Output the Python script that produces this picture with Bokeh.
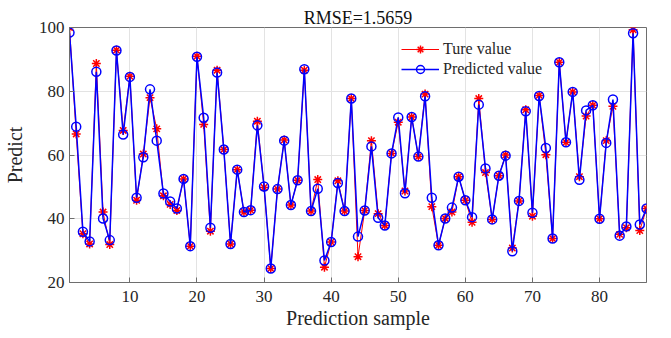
from bokeh.plotting import figure
from bokeh.models import Range1d, FixedTicker, Legend, LegendItem
from bokeh.embed import file_html
from bokeh.resources import INLINE

samples = list(range(1, 88))
true_vals = [100.0, 66.6, 35.3, 32.1, 88.7, 42.1, 31.9, 92.9, 67.7, 84.7,
             45.8, 60.3, 78.0, 68.2, 47.2, 44.5, 42.6, 52.5, 31.4, 91.0,
             69.6, 36.1, 86.6, 61.7, 32.1, 55.4, 42.1, 42.7, 70.6, 49.8,
             24.4, 49.3, 64.7, 44.3, 52.1, 86.6, 42.4, 52.3, 24.8, 32.7,
             51.9, 42.4, 77.7, 28.1, 42.6, 64.5, 41.6, 37.9, 60.5, 70.3,
             48.7, 71.9, 59.5, 79.1, 43.8, 31.7, 40.1, 42.1, 53.2, 45.8,
             38.9, 77.7, 54.5, 39.8, 53.5, 60.0, 30.8, 45.6, 74.2, 40.8,
             78.7, 60.1, 33.8, 89.1, 64.0, 79.8, 53.2, 72.2, 75.6, 40.0,
             64.5, 75.3, 35.1, 37.2, 99.3, 36.3, 43.2]
pred_vals = [98.4, 68.9, 35.9, 32.9, 86.1, 40.1, 33.3, 92.8, 66.4, 84.5,
             46.6, 59.3, 80.6, 64.5, 47.9, 45.4, 43.2, 52.5, 31.4, 90.8,
             71.7, 37.2, 85.9, 61.7, 32.1, 55.4, 42.1, 42.7, 69.3, 50.1,
             24.4, 49.3, 64.5, 44.3, 52.1, 86.9, 42.4, 49.4, 26.9, 32.7,
             51.2, 42.4, 77.7, 34.4, 42.6, 62.7, 40.3, 37.9, 60.5, 71.8,
             48.0, 71.9, 59.5, 78.4, 46.6, 31.7, 40.1, 43.5, 53.2, 45.8,
             40.5, 75.8, 55.8, 39.8, 53.5, 59.8, 29.8, 45.6, 73.7, 41.9,
             78.5, 62.2, 33.8, 89.1, 64.0, 79.8, 52.2, 74.0, 75.6, 40.0,
             63.8, 77.4, 34.7, 37.6, 98.2, 38.2, 43.2]
x_ticks = [10, 20, 30, 40, 50, 60, 70, 80]
y_ticks = [20, 40, 60, 80, 100]
title_text = "RMSE=1.5659"
series_names = ["Ture value", "Predicted value"]

FONT = "Liberation Serif"
AX = "#6e6e6e"
TXT = "#262626"

p = figure(width=671, height=338, output_backend="svg", toolbar_location=None,
           x_range=Range1d(1, 87), y_range=Range1d(20, 100),
           min_border_left=67, min_border_right=25, min_border_top=27, min_border_bottom=56,
           title=title_text)
p.title.align = "center"
p.title.text_font = FONT
p.title.text_font_size = "18px"
p.title.text_font_style = "normal"
p.title.text_color = "#111111"
p.title.standoff = 0
p.title.offset = 0

p.outline_line_color = AX
p.outline_line_width = 1

for ax in (p.xaxis[0], p.yaxis[0]):
    ax.major_label_text_font = FONT
    ax.major_label_text_font_size = "17px"
    ax.major_label_text_color = TXT
    ax.axis_label_text_font = FONT
    ax.axis_label_text_font_size = "20px"
    ax.axis_label_text_font_style = "normal"
    ax.axis_label_text_color = TXT
    ax.axis_line_color = AX
    ax.major_tick_line_color = AX
    ax.major_tick_in = 5
    ax.major_tick_out = 0
    ax.minor_tick_line_color = None

p.xaxis[0].ticker = FixedTicker(ticks=x_ticks)
p.yaxis[0].ticker = FixedTicker(ticks=y_ticks)
p.xaxis[0].axis_label = "Prediction sample"
p.yaxis[0].axis_label = "Predict"
p.xaxis[0].major_label_standoff = 8
p.yaxis[0].major_label_standoff = 5
p.xaxis[0].axis_label_standoff = 2
p.yaxis[0].axis_label_standoff = 10

p.xgrid.ticker = FixedTicker(ticks=x_ticks)
p.ygrid.ticker = FixedTicker(ticks=y_ticks)
p.grid.grid_line_color = "#e3e3e3"
p.grid.grid_line_width = 1

r_line = p.line(samples, true_vals, line_color="red", line_width=1)
r_pts = p.scatter(samples, true_vals, marker="asterisk", size=9, line_color="red", line_width=1.5)
b_line = p.line(samples, pred_vals, line_color="blue", line_width=1.5)
b_pts = p.scatter(samples, pred_vals, marker="circle", size=9, line_color="blue",
                  fill_color=None, line_width=1.5)

legend = Legend(items=[LegendItem(label=series_names[0], renderers=[r_line, r_pts]),
                       LegendItem(label=series_names[1], renderers=[b_line, b_pts])],
                location=(332, 203), padding=5, spacing=0, glyph_width=38, glyph_height=20,
                label_standoff=4, label_text_font=FONT, label_text_font_size="16px",
                label_text_color=TXT, background_fill_alpha=0, border_line_color=None,
                margin=0)
p.add_layout(legend, "center")

open("out.html", "w").write(file_html(p, INLINE))
